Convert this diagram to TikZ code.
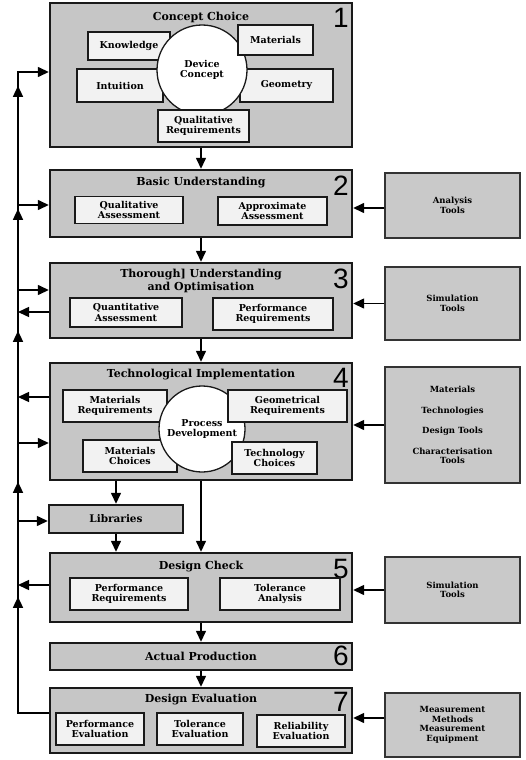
\documentclass[tikz,border=0pt]{standalone}
\usepackage{fontspec}
\setmainfont{DejaVu Serif}
\setsansfont{Liberation Sans}
\usetikzlibrary{arrows.meta,decorations.markings,calc}
\begin{document}
\begin{tikzpicture}[x=1pt,y=-1pt,
 mainbox/.style={draw=black!90, line width=2.4pt, fill=gray!45, inner sep=0pt},
 subbox/.style={draw=black!90, line width=1.3pt, fill=gray!10, align=center, font=\bfseries\fontsize{9.5}{10.5}\selectfont, inner sep=1pt},
 toolbox/.style={draw=black!80, line width=1.3pt, fill=gray!42, align=center, font=\bfseries\fontsize{8.5}{9.5}\selectfont, minimum width=135pt, inner sep=0pt},
 circ/.style={circle, draw=black!90, line width=1.3pt, fill=white, align=center, font=\bfseries\fontsize{9.5}{10.5}\selectfont, inner sep=0pt},
 ttl/.style={font=\bfseries\fontsize{11}{12.5}\selectfont, align=center, inner sep=0pt},
 num/.style={font=\sffamily\fontsize{28}{28}\selectfont, anchor=north east, inner sep=0pt},
 tip/.style={-{Triangle[length=11pt,width=10pt]}},
 arr/.style={line width=1.4pt, tip},
 ln/.style={line width=1.4pt}
]
\useasboundingbox[fill=white] (0,0) rectangle (525,760);

% ---------- main boxes ----------
\node[mainbox, minimum width=302pt, minimum height=144pt] (B1) at (201,75) {};
\node[mainbox, minimum width=302pt, minimum height=67pt] (B2) at (201,203.5) {};
\node[mainbox, minimum width=302pt, minimum height=75pt] (B3) at (201,300.5) {};
\node[mainbox, minimum width=302pt, minimum height=117pt] (B4) at (201,421.5) {};
\node[mainbox, minimum width=134pt, minimum height=28pt, font=\bfseries\fontsize{10.5}{12}\selectfont] (Lib) at (116,519) {Libraries};
\node[mainbox, minimum width=302pt, minimum height=69pt] (B5) at (201,587.5) {};
\node[mainbox, minimum width=302pt, minimum height=27pt] (B6) at (201,656.5) {};
\node[mainbox, minimum width=302pt, minimum height=65pt] (B7) at (201,720.5) {};

% ---------- box 1 ----------
\node[ttl] (t1) at (201,17) {Concept Choice};
\node[num] (n1) at (349,8) {1};
\node[subbox, minimum width=82pt, minimum height=28pt] (k) at (129,46) {Knowledge};
\node[subbox, minimum width=86pt, minimum height=33pt] (intu) at (120,85.5) {Intuition};
\node[subbox, minimum width=93pt, minimum height=33pt] (geo) at (286.5,85.5) {Geometry};
\node[circ, minimum size=90pt] (dc) at (202,70) {Device\\Concept};
\node[subbox, minimum width=75pt, minimum height=30pt] (mat) at (275.5,40) {Materials};
\node[subbox, minimum width=91pt, minimum height=32pt] (qr) at (203.5,126) {Qualitative\\Requirements};

% ---------- box 2 ----------
\node[ttl] (t2) at (201,183) {Basic Understanding};
\node[num] (n2) at (349,176) {2};
\node[subbox, minimum width=108pt, minimum height=27pt] (qa) at (129,210) {Qualitative\\Assessment};
\node[subbox, minimum width=109pt, minimum height=28pt] (aa) at (272.5,211) {Approximate\\Assessment};

% ---------- box 3 ----------
\node[ttl] (t3) at (201,281) {Thorough] Understanding\\and Optimisation};
\node[num] (n3) at (349,269) {3};
\node[subbox, minimum width=112pt, minimum height=29pt] (qta) at (126,312.5) {Quantitative\\Assessment};
\node[subbox, minimum width=120pt, minimum height=32pt] (pr3) at (273,314) {Performance\\Requirements};

% ---------- box 4 ----------
\node[ttl] (t4) at (201,375) {Technological Implementation};
\node[num] (n4) at (349,368) {4};
\node[subbox, minimum width=104pt, minimum height=32pt] (mr) at (115,406) {Materials\\Requirements};
\node[subbox, minimum width=94pt, minimum height=32pt] (mc) at (130,456) {Materials\\Choices};
\node[circ, minimum size=86pt] (pd) at (202,429) {Process\\Development};
\node[subbox, minimum width=119pt, minimum height=32pt] (gr) at (287.5,406) {Geometrical\\Requirements};
\node[subbox, minimum width=85pt, minimum height=32pt] (tc) at (274.5,458) {Technology\\Choices};

% ---------- box 5 ----------
\node[ttl] (t5) at (201,567) {Design Check};
\node[num] (n5) at (349,559) {5};
\node[subbox, minimum width=118pt, minimum height=32pt] (pr5) at (129,594) {Performance\\Requirements};
\node[subbox, minimum width=120pt, minimum height=32pt] (ta) at (280,594) {Tolerance\\Analysis};

% ---------- box 6 ----------
\node[ttl] (t6) at (201,656.5) {Actual Production};
\node[num] (n6) at (349,646) {6};

% ---------- box 7 ----------
\node[ttl] (t7) at (201,700) {Design Evaluation};
\node[num] (n7) at (349,692) {7};
\node[subbox, minimum width=88pt, minimum height=32pt] (pe) at (100,729) {Performance\\Evaluation};
\node[subbox, minimum width=86pt, minimum height=32pt] (te) at (200,729) {Tolerance\\Evaluation};
\node[subbox, minimum width=88pt, minimum height=32pt] (re) at (301,731) {Reliability\\Evaluation};

% ---------- tool boxes ----------
\node[toolbox, minimum height=65pt] (T2) at (452.5,205.5) {Analysis\\Tools};
\node[toolbox, minimum height=73pt] (T3) at (452.5,303.5) {Simulation\\Tools};
\node[toolbox, minimum height=116pt] (T4) at (452.5,425) {Materials\\[11pt]Technologies\\[11pt]Design Tools\\[11pt]Characterisation\\Tools};
\node[toolbox, minimum height=66pt] (T5) at (452.5,590) {Simulation\\Tools};
\node[toolbox, minimum height=64pt] (T7) at (452.5,725) {Measurement\\Methods\\Measurement\\Equipment};

% ---------- tool arrows ----------
\draw[arr] ([yshift=-2.5pt]T2.west) -- ([yshift=-2.5pt]T2.west -| B2.east);
\draw[arr] (T3.west) -- (T3.west -| B3.east);
\draw[arr] (T4.west) -- (T4.west -| B4.east);
\draw[arr] (T5.west) -- (T5.west -| B5.east);
\draw[arr] ([yshift=7pt]T7.west) -- ([yshift=7pt]T7.west -| B7.east);

% ---------- downward flow ----------
\draw[arr] (B1.south) -- (B2.north);
\draw[arr] (B2.south) -- (B3.north);
\draw[arr] (B3.south) -- (B4.north);
\draw[arr] (Lib.north |- B4.south) -- (Lib.north);
\draw[arr] (Lib.south) -- (Lib.south |- B5.north);
\draw[arr] (B4.south) -- (B5.north);
\draw[arr] (B5.south) -- (B6.north);
\draw[arr] (B6.south) -- (B7.north);

% ---------- feedback trunk ----------
\coordinate (trunkTop) at (18,72);
\coordinate (b1in) at ([yshift=3pt]B1.west);
\coordinate (b7out) at ([yshift=7.5pt]B7.west);
\draw[ln, tip, postaction={decorate}, decoration={markings,
   mark=at position 147pt with {\arrow{Triangle[length=11pt,width=10pt]}},
   mark=at position 262pt with {\arrow{Triangle[length=11pt,width=10pt]}},
   mark=at position 413pt with {\arrow{Triangle[length=11pt,width=10pt]}},
   mark=at position 535pt with {\arrow{Triangle[length=11pt,width=10pt]}},
   mark=at position 658pt with {\arrow{Triangle[length=11pt,width=10pt]}}}]
   (b7out) -| (trunkTop) -- (b1in);

\coordinate (b2in) at ([yshift=-1.5pt]B2.west);
\coordinate (b3in) at ([yshift=10.5pt]B3.west);
\coordinate (b3out) at ([yshift=-11.5pt]B3.west);
\coordinate (b4out) at ([yshift=24.5pt]B4.west);
\coordinate (b4in) at ([yshift=-21.5pt]B4.west);
\coordinate (libin) at ([yshift=-2pt]Lib.west);
\coordinate (b5out) at ([yshift=2.5pt]B5.west);

\draw[arr] (b2in -| trunkTop) -- (b2in);
\draw[arr] (b3in -| trunkTop) -- (b3in);
\draw[arr] (b3out) -- (b3out -| trunkTop);
\draw[arr] (b4out) -- (b4out -| trunkTop);
\draw[arr] (b4in -| trunkTop) -- (b4in);
\draw[arr] (libin -| trunkTop) -- (libin);
\draw[arr] (b5out) -- (b5out -| trunkTop);
\end{tikzpicture}
\end{document}
